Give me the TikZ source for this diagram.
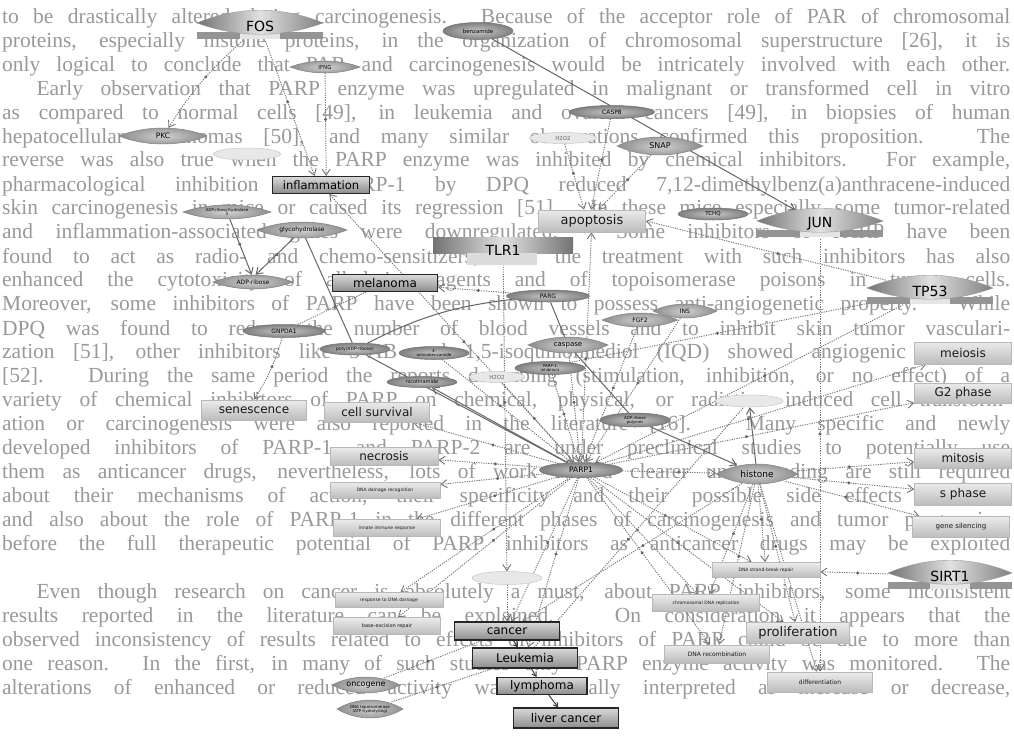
\documentclass[tikz,border=0pt]{standalone}
\usepackage{fontspec}
\setmainfont{Liberation Serif}
\newfontfamily\labfont{DejaVu Sans}
\usetikzlibrary{arrows.meta,decorations.markings,shapes.geometric}
\pgfdeclarelayer{bgl}
\pgfdeclarelayer{edl}
\pgfsetlayers{bgl,edl,main}
\newcommand\fsz[1]{\fontsize{#1}{#1}\selectfont}
\newcommand\lensnode[7]{%
  \path[lensfill] ({#2-#4},#3) .. controls ({#2-0.4*#4},{#3-1.33*#5}) and ({#2+0.4*#4},{#3-1.33*#5}) .. ({#2+#4},#3) .. controls ({#2+0.4*#4},{#3+1.33*#5}) and ({#2-0.4*#4},{#3+1.33*#5}) .. cycle;
  \node[lenstxt, minimum width={2*#4pt}, minimum height={2*#5pt}, font=\labfont\fsz{#6}] (#1) at (#2,#3) {#7};}
\newcommand\tfnode[5]{%
  \fill[black!42] ({#2-#4},{#3+8}) rectangle ({#2+#4},{#3+15});
  \fill[black!10] ({#2-0.32*#4},{#3+9}) rectangle ({#2+0.32*#4},{#3+15});
  \path[draw=black!40, line width=0.4pt, left color=black!55, right color=black!50, middle color=black!12] ({#2-#4},{#3-1}) .. controls ({#2-0.35*#4},{#3-18}) and ({#2+0.35*#4},{#3-18}) .. ({#2+#4},{#3-1}) .. controls ({#2+0.35*#4},{#3+14}) and ({#2-0.35*#4},{#3+14}) .. cycle;
  \node[lenstxt, minimum width={2*#4pt}, minimum height=30pt, font=\labfont\fsz{14}] (#1) at (#2,{#3+2}) {#5};}
\newcommand\bgrow[2]{\node[bgtext] at (2,{18+23.97*#1}) {\makebox[1008pt][s]{#2}};}
\tikzset{
  bgtext/.style={anchor=west, inner sep=0pt, text=black!40, font=\fontsize{21.5}{24}\selectfont},
  proc/.style={rectangle, draw=black!28, line width=0.6pt, top color=black!8, bottom color=black!26, text=black!90, inner sep=0pt},
  dis/.style={rectangle, draw=black!85, line width=1.1pt, top color=black!15, bottom color=black!45, text=black, inner sep=0pt},
  prot/.style={ellipse, draw=black!55, line width=0.5pt, inner color=black!22, outer color=black!50, text=black, inner sep=0pt, align=center},
  ghost/.style={ellipse, draw=black!22, line width=0.5pt, fill=black!9, inner sep=0pt, text=black!60},
  lensfill/.style={draw=black!50, line width=0.5pt, inner color=black!18, outer color=black!45},
  lenstxt/.style={ellipse, inner sep=0pt, text=black, align=center},
  rel/.style={draw=black!55, line width=0.9pt, dash pattern=on 1.2pt off 1.2pt, -{Straight Barb[length=6pt,width=8pt]}},
  relnt/.style={draw=black!55, line width=0.9pt, dash pattern=on 1.2pt off 1.2pt},
  sol/.style={draw=black!60, line width=1pt, -{Straight Barb[length=6pt,width=8pt]}},
  solnt/.style={draw=black!60, line width=1pt},
  dk/.style={draw=black!75, line width=1pt, -{Straight Barb[length=4pt,width=5pt]}},
  mdot/.style={postaction={decorate}, decoration={markings, mark=at position #1 with {\fill[black!60] (0,0) circle (1.7pt);}}},
  mdot/.default=0.45
}
\begin{document}
\begin{tikzpicture}[x=1pt,y=-1pt]
\useasboundingbox (0,0) rectangle (1014,736);
\begin{pgfonlayer}{bgl}
\fill[white] (0,0) rectangle (1014,736);
\bgrow{0}{to be drastically altered during carcinogenesis. Because of the acceptor role of PAR of chromosomal}
\bgrow{1}{proteins, especially histone proteins, in the organization of chromosomal superstructure [26], it is}
\bgrow{2}{only logical to conclude that PAR and carcinogenesis would be intricately involved with each other.}
\bgrow{3}{\hspace*{1.6em}Early observation that PARP enzyme was upregulated in malignant or transformed cell in vitro}
\bgrow{4}{as compared to normal cells [49], in leukemia and ovarian cancers [49], in biopsies of human}
\bgrow{5}{hepatocellular carcinomas [50], and many similar observations confirmed this proposition. The}
\bgrow{6}{reverse was also true when the PARP enzyme was inhibited by chemical inhibitors. For example,}
\bgrow{7}{pharmacological inhibition of PARP-1 by DPQ reduced 7,12-dimethylbenz(a)anthracene-induced}
\bgrow{8}{skin carcinogenesis in mice or caused its regression [51]. In these mice especially some tumor-related}
\bgrow{9}{and inflammation-associated genes were downregulated. Some inhibitors of PARP have been}
\bgrow{10}{found to act as radio- and chemo-sensitizers, and the treatment with such inhibitors has also}
\bgrow{11}{enhanced the cytotoxicity of alkylating agents and of topoisomerase poisons in tumor cells.}
\bgrow{12}{Moreover, some inhibitors of PARP have been shown to possess anti-angiogenetic property. While}
\bgrow{13}{DPQ was found to reduce the number of blood vessels and to inhibit skin tumor vasculari-}
\bgrow{14}{zation [51], other inhibitors like 3-AB and 1,5-isoquinolinediol (IQD) showed angiogenic properties}
\bgrow{15}{[52]. During the same period the reports describing (stimulation, inhibition, or no effect) of a}
\bgrow{16}{variety of chemical inhibitors of PARP on chemical, physical, or radiation induced cell transform-}
\bgrow{17}{ation or carcinogenesis were also reported in the literature [16]. Many specific and newly}
\bgrow{18}{developed inhibitors of PARP-1 and PARP-2 are under preclinical studies to potentially use}
\bgrow{19}{them as anticancer drugs, nevertheless, lots of work and a clearer understanding are still required}
\bgrow{20}{about their mechanisms of action, their specificity and their possible side effects in vivo,}
\bgrow{21}{and also about the role of PARP-1 in the different phases of carcinogenesis and tumor progression,}
\bgrow{22}{before the full therapeutic potential of PARP inhibitors as anticancer drugs may be exploited}
\bgrow{24}{\hspace*{1.6em}Even though research on cancer is absolutely a must, about PARP inhibitors, some inconsistent}
\bgrow{25}{results reported in the literature can be explained. On consideration it appears that the}
\bgrow{26}{observed inconsistency of results related to effects of inhibitors of PARP could be due to more than}
\bgrow{27}{one reason. In the first, in many of such studies only PARP enzyme activity was monitored. The}
\bgrow{28}{alterations of enhanced or reduced activity was essentially interpreted as increase or decrease,}
\end{pgfonlayer}

% ---------- nodes ----------
\tfnode{fos}{260}{24}{63}{FOS}
\tfnode{jun}{820}{222}{63}{JUN}
\tfnode{tp53}{930}{289}{63}{TP53}
\tfnode{sirt}{950}{574}{62}{SIRT1}
% TLR1
\path[left color=black!55, right color=black!55, middle color=black!12] (433,237) rectangle (573,253);
\fill[black!14] (467,253) rectangle (537,265);
\node[inner sep=0pt, minimum width=140pt, minimum height=28pt, font=\labfont\fsz{14}] (tlr) at (503,250) {TLR1};

\node[prot, minimum width=70pt, minimum height=17pt, font=\labfont\fsz{5.5}] (benz) at (478,31) {benzamide};
\node[prot, minimum width=85pt, minimum height=13pt, font=\labfont\fsz{6}] (casp8) at (612,112) {CASP8};
\node[prot, minimum width=70pt, minimum height=12pt, font=\labfont\fsz{5.5}] (tchq) at (713,214) {TCHQ};
\node[prot, minimum width=83pt, minimum height=12pt, font=\labfont\fsz{6}] (parg) at (548,296) {PARG};
\node[prot, minimum width=82pt, minimum height=13pt, font=\labfont\fsz{6}] (gnpda) at (284,331) {GNPDA1};
\node[prot, minimum width=70pt, minimum height=12pt, font=\labfont\fsz{4.5}] (padp) at (355,349) {poly(ADP-ribose)};
\node[prot, minimum width=70pt, minimum height=13pt, font=\labfont\fsz{4}] (tab) at (434,353) {3-\\aminobenzamide};
\node[prot, minimum width=70pt, minimum height=11pt, font=\labfont\fsz{5}] (nicot) at (422,382) {nicotinamide};
\node[ghost, minimum width=55pt, minimum height=11pt, font=\labfont\fsz{5.5}] (hoob) at (497,377) {H2O2};
\node[prot, minimum width=70pt, minimum height=13pt, font=\labfont\fsz{4}] (pinh) at (550,368) {PARP-1\\inhibitors};
\node[prot, minimum width=70pt, minimum height=14pt, font=\labfont\fsz{4}] (adpp) at (635,420) {ADP-ribose\\polymer};
\node[prot, minimum width=83pt, minimum height=15pt, font=\labfont\fsz{7.5}] (parp) at (581,470) {PARP1};
\node[ghost, minimum width=67pt, minimum height=12pt] (g1) at (247,154) {};
\node[ghost, minimum width=67pt, minimum height=11pt, font=\labfont\fsz{5.5}] (hoo) at (563,138) {H2O2};
\node[ghost, minimum width=68pt, minimum height=12pt] (g2e) at (749,401) {};
\node[ghost, minimum width=70pt, minimum height=13pt] (g3e) at (507,578) {};

\lensnode{ifng}{325}{67}{35}{6}{5.5}{IFNG}
\lensnode{pkc}{163}{136}{44}{8}{7.5}{PKC}
\lensnode{snap}{660}{146}{43}{9}{8}{SNAP}
\lensnode{arh}{227}{212}{44}{7}{4}{ADP-ribosylhydrolase\\3}
\lensnode{glyco}{302}{230}{45}{8}{6}{glycohydrolase}
\lensnode{adpr}{253}{282}{40}{7}{6}{ADP-ribose}
\lensnode{ins}{685}{311}{32}{7}{6}{INS}
\lensnode{fgf}{640}{320}{38}{7}{6}{FGF2}
\lensnode{caspase}{568}{345}{40}{8}{7}{caspase}
\lensnode{hist}{757}{474}{41}{10}{9}{histone}
\lensnode{onco}{366}{685}{34}{8}{8}{oncogene}
\lensnode{topo}{370}{709}{33}{9}{4}{DNA topoisomerase\\(ATP-hydrolysing)}

\node[proc, minimum width=107pt, minimum height=22pt, font=\labfont\fsz{13}] (apop) at (592,221) {apoptosis};
\node[proc, minimum width=105pt, minimum height=20pt, font=\labfont\fsz{12}] (senes) at (254,410) {senescence};
\node[proc, minimum width=105pt, minimum height=20pt, font=\labfont\fsz{12}] (surv) at (377,412) {cell survival};
\node[proc, minimum width=108pt, minimum height=18pt, font=\labfont\fsz{12}] (necro) at (384,456) {necrosis};
\node[proc, minimum width=110pt, minimum height=16pt, font=\labfont\fsz{4.5}] (ddr) at (385,490) {DNA damage recognition};
\node[proc, minimum width=107pt, minimum height=17pt, font=\labfont\fsz{4.5}] (innate) at (387,528) {innate immune response};
\node[proc, minimum width=108pt, minimum height=15pt, font=\labfont\fsz{4.5}] (rdd) at (389,600) {response to DNA damage};
\node[proc, minimum width=107pt, minimum height=17pt, font=\labfont\fsz{5}] (ber) at (387,626) {base-excision repair};
\node[proc, minimum width=97pt, minimum height=22pt, font=\labfont\fsz{12}] (meio) at (963,353) {meiosis};
\node[proc, minimum width=97pt, minimum height=20pt, font=\labfont\fsz{12}] (gtwo) at (963,393) {G2 phase};
\node[proc, minimum width=97pt, minimum height=20pt, font=\labfont\fsz{12}] (mito) at (963,458) {mitosis};
\node[proc, minimum width=97pt, minimum height=22pt, font=\labfont\fsz{12}] (sph) at (963,494) {s phase};
\node[proc, minimum width=97pt, minimum height=21pt, font=\labfont\fsz{7}] (gsil) at (961,527) {gene silencing};
\node[proc, minimum width=108pt, minimum height=15pt, font=\labfont\fsz{4.5}] (dsr) at (766,570) {DNA strand-break repair};
\node[proc, minimum width=107pt, minimum height=17pt, font=\labfont\fsz{4.5}] (cdr) at (706,603) {chromosomal DNA replication};
\node[proc, minimum width=105pt, minimum height=18pt, font=\labfont\fsz{6}] (drec) at (717,654) {DNA recombination};
\node[proc, minimum width=103pt, minimum height=21pt, font=\labfont\fsz{13}] (prolif) at (798,633) {proliferation};
\node[proc, minimum width=105pt, minimum height=20pt, font=\labfont\fsz{6}] (diff) at (820,682) {differentiation};

\node[dis, minimum width=97pt, minimum height=17pt, font=\labfont\fsz{11.5}] (infl) at (321,185) {inflammation};
\node[dis, minimum width=105pt, minimum height=17pt, font=\labfont\fsz{12}] (mela) at (385,283) {melanoma};
\node[dis, minimum width=105pt, minimum height=18pt, font=\labfont\fsz{12}] (cancer) at (507,631) {cancer};
\node[dis, minimum width=105pt, minimum height=20pt, font=\labfont\fsz{12}] (leuk) at (525,658) {Leukemia};
\node[dis, minimum width=90pt, minimum height=17pt, font=\labfont\fsz{12}] (lymph) at (542,686) {lymphoma};
\node[dis, minimum width=105pt, minimum height=20pt, font=\labfont\fsz{12}] (liver) at (566,718) {liver cancer};

% ---------- edges ----------
\begin{pgfonlayer}{edl}
\draw[rel,mdot] (fos) to[bend right=8] (pkc);
\draw[rel,mdot] (fos) -- (infl.125);
\draw[rel,mdot] (ifng) -- (infl.60);
\draw[sol,mdot=0.4] (benz) -- (jun);
\draw[rel,mdot] (hoo) -- (apop.125);
\draw[rel,mdot] (casp8) -- (apop.95);
\draw[rel,mdot] (snap) -- (apop.60);
\draw[rel,mdot] (tp53) -- (apop.east);
\draw[rel,mdot] (parp) -- (apop);
\draw[rel,mdot] (parp) -- (infl);
\draw[rel,mdot] (parg) -- (mela);
\draw[sol,mdot] (arh) -- (adpr.100);
\draw[sol,mdot] (glyco) -- (adpr.70);
\draw[solnt] (glyco) -- (padp);
\draw[relnt,mdot] (mela) -- (gnpda);
\draw[rel,mdot] (gnpda) to[bend left=8] (senes.north);
\draw[solnt] (padp) to[bend left=10] (parg);
\draw[solnt] (parg) -- (caspase);
\draw[solnt] (caspase) -- (adpp);
\draw[sol,mdot] (adpp) -- (hist);
\draw[solnt] (padp) -- (parp);
\draw[sol] (parp) -- (nicot);
\draw[rel,mdot] (tlr) -- (g3e);
\draw[rel] (g3e) -- (cancer);
\draw[rel,mdot] (jun) -- (diff);
\draw[rel,mdot] (tp53) -- (parp);
\draw[relnt,mdot] (tp53) -- (hoob);
\foreach \t in {necro,ddr,innate,rdd,ber,cancer,leuk,surv,meio,gtwo,dsr,cdr,drec,prolif}
  \draw[rel,mdot] (parp) -- (\t);
\draw[rel,mdot=0.6] (parp) -- (hist);
\foreach \s in {ins,fgf,caspase,hoob,pinh,tab}
  \draw[rel,mdot] (\s) -- (parp);
\foreach \t in {mito,sph,gsil,prolif,diff,dsr,cdr,drec,cancer}
  \draw[rel,mdot] (hist) -- (\t);
\draw[sol] (hist) -- (g2e);
\draw[rel,mdot] (sirt) -- (dsr);
\draw[dk] (cancer) -- (leuk);
\draw[dk] (leuk) -- (lymph);
\draw[dk] (lymph) -- (liver);
\draw[relnt,mdot] (onco) -- (cancer);
\draw[relnt,mdot] (topo) -- (leuk);
\draw[relnt,mdot] (leuk) -- (g2e);
\end{pgfonlayer}
\end{tikzpicture}
\end{document}
